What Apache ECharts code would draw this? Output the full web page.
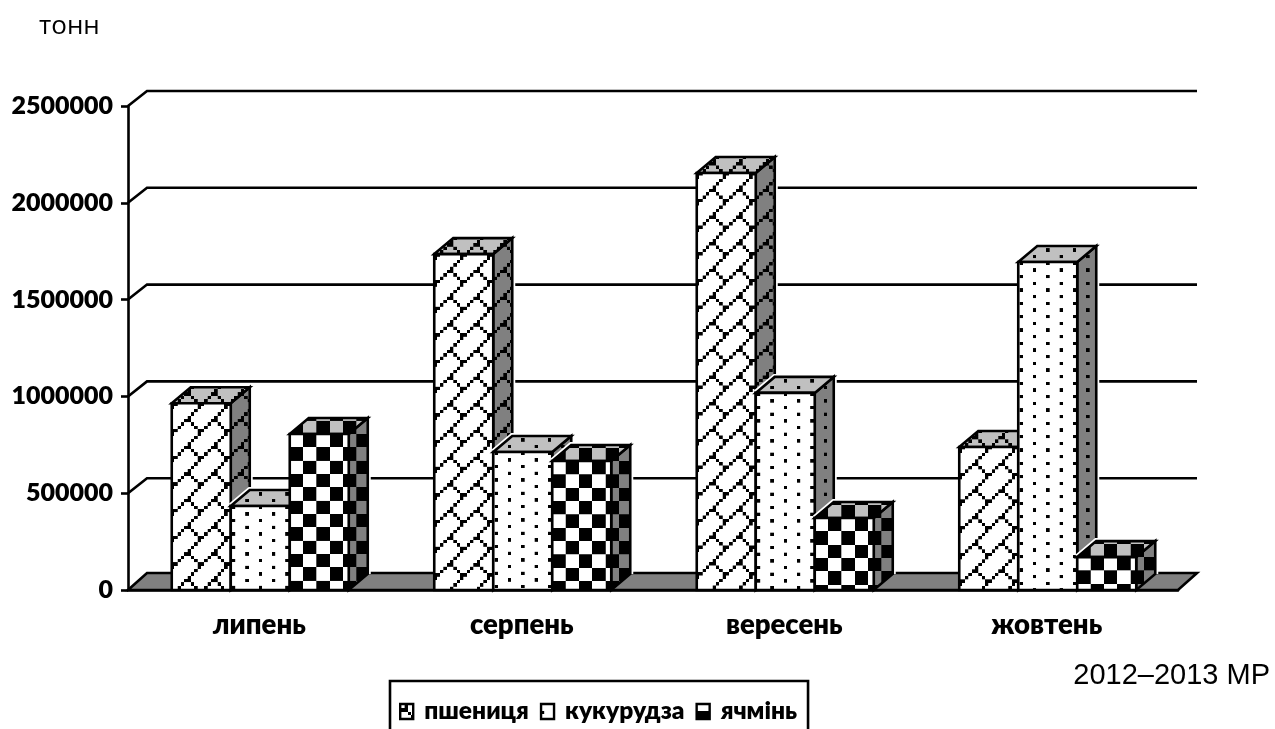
<!DOCTYPE html>
<html><head><meta charset="utf-8">
<style>html,body{margin:0;padding:0;background:#fff}#c{width:1275px;height:729px}</style>
<script src="https://cdn.jsdelivr.net/npm/echarts@6/dist/echarts.min.js"></script>
</head><body><div id="c"></div>
<script>
const months = ['липень', 'серпень', 'вересень', 'жовтень'];
const wheat = [965000, 1735000, 2154000, 739000];
const corn = [434000, 713000, 1018000, 1694000];
const barley = [806000, 666000, 372000, 170000];
const seriesNames = ['пшениця', 'кукурудза', 'ячмінь'];
const yTicks = [0, 500000, 1000000, 1500000, 2000000, 2500000];

const BOLD = 'Lato, "Noto Sans", sans-serif';
const DX = 19, DY = 16, BAR = 59, GRID_DY = 15, FLOOR_DY = 17, LINE = 2.6;

const BITMAPS = {
  brick: ['00000001','00000010','00000100','00001000','00011000','00100100','01000010','10000001'],
  dots:  ['00001000','00000000','10000000','00000000','00001000','00000000','10000000','00000000'],
  check: ['11110000','11110000','11110000','11110000','00001111','00001111','00001111','00001111']
};
function tile(bits, bg) {
  const k = 10, c = document.createElement('canvas');
  c.width = c.height = 8 * k;
  const g = c.getContext('2d');
  g.fillStyle = bg; g.fillRect(0, 0, 80, 80);
  g.fillStyle = '#000';
  bits.forEach((row, y) => row.split('').forEach((b, x) => { if (b === '1') g.fillRect(x * k, y * k, k, k); }));
  return c;
}
const kinds = ['brick', 'dots', 'check'];
const tiles = kinds.map(n => ({ white: tile(BITMAPS[n], '#fff'), side: tile(BITMAPS[n], '#808080'), top: tile(BITMAPS[n], '#c0c0c0') }));
// pattern origin relative to each bar's top-left front corner
const barPhase = [[2.5, 2.5], [1.3, 6.3], [0, -13.33]];
const legendPhase = [[-9, -9], [0, 0], [0, 7]];
function pat(img, x, y) { return { image: img, repeat: 'repeat', x: x, y: y, scaleX: 1 / 3, scaleY: 1 / 3 }; }

function barItem(k) {
  return function (params, api) {
    const i = api.value(0), v = api.value(1);
    const c = api.coord([i, 0]), t = api.coord([i, v]);
    const xl = c[0] + 1 + (k - 1.5) * BAR, xr = xl + BAR, y0 = c[1], y1 = t[1];
    const front = [[xl, y1], [xr, y1], [xr, y0], [xl, y0]];
    const side = [[xr, y1], [xr + DX, y1 - DY], [xr + DX, y0 - DY], [xr, y0]];
    const top = [[xl, y1], [xl + DX, y1 - DY], [xr + DX, y1 - DY], [xr, y1]];
    const halo = [[xl, y1], [xl + DX, y1 - DY], [xr + DX, y1 - DY], [xr + DX, y0 - DY]];
    const px = xl + barPhase[k][0], py = y1 + barPhase[k][1];
    const poly = (pts, fill, stroke, w) => ({ type: 'polygon', shape: { points: pts }, style: { fill: fill, stroke: stroke, lineWidth: w } });
    return {
      type: 'group',
      children: [
        { type: 'polyline', shape: { points: halo }, style: { fill: null, stroke: '#fff', lineWidth: 6 } },
        poly(side, pat(tiles[k].side, px, py), '#000', LINE),
        poly(top, pat(tiles[k].top, px, py), '#000', LINE),
        poly(front, pat(tiles[k].white, px, py), '#000', LINE)
      ]
    };
  };
}
function wallItem(params, api) {
  const v = api.value(1);
  const band = api.size([1, 0])[0];
  const a = api.coord([0, v]), b = api.coord([months.length - 1, v]);
  const xl = a[0] - band / 2, xr = b[0] + band / 2, y = a[1];
  if (v === 0) {
    return { type: 'polygon', shape: { points: [[xl, y], [xl + DX, y - FLOOR_DY], [xr + DX, y - FLOOR_DY], [xr, y]] },
      style: { fill: '#808080', stroke: '#000', lineWidth: LINE } };
  }
  return { type: 'polyline', shape: { points: [[xl, y], [xl + DX, y - GRID_DY], [xr + DX, y - GRID_DY]] },
    style: { fill: null, stroke: '#000', lineWidth: LINE } };
}
const values = [wheat, corn, barley];
const option = {
  animation: false,
  backgroundColor: '#fff',
  grid: { left: 128, right: 97, top: 106, bottom: 139, outerBoundsMode: 'none' },
  xAxis: { type: 'category', data: months, boundaryGap: true,
    axisLine: { lineStyle: { color: '#000', width: LINE } },
    axisTick: { length: 7, lineStyle: { color: '#000', width: LINE } },
    axisLabel: { color: '#000', fontFamily: BOLD, fontWeight: 800, fontSize: 27.5, margin: 21 } },
  yAxis: { type: 'value', min: 0, max: 2500000, interval: 500000,
    splitLine: { show: false },
    axisLine: { show: true, lineStyle: { color: '#000', width: LINE } },
    axisTick: { show: true, length: 7, lineStyle: { color: '#000', width: LINE } },
    axisLabel: { color: '#000', fontFamily: BOLD, fontWeight: 800, fontSize: 25, margin: 15, formatter: v => String(v) } },
  legend: {
    left: 390, top: 681, selectedMode: false, orient: 'horizontal',
    padding: [18, 11, 40, 9], itemGap: 11, itemWidth: 13, itemHeight: 15,
    borderColor: '#000', borderWidth: 2.6, borderRadius: 0,
    textStyle: { color: '#000', fontFamily: BOLD, fontWeight: 800, fontSize: 24.5, padding: [0, 0, 0, 6] },
    data: seriesNames.map((n, k) => ({ name: n, icon: 'rect',
      itemStyle: { color: pat(tiles[k].white, legendPhase[k][0], legendPhase[k][1]), borderColor: '#000', borderWidth: 2.4 } }))
  },
  graphic: [
    { type: 'text', left: 39, top: 14, style: { text: 'тонн', fontFamily: '"Open Sans"', fontSize: 26, fill: '#000' } },
    { type: 'text', right: 5, top: 661, style: { text: '2012–2013 МР', fontFamily: '"Liberation Sans"', fontSize: 29, fill: '#000' } }
  ],
  series: [
    { type: 'custom', name: 'wall', clip: false, silent: true, renderItem: wallItem, encode: { x: 0, y: 1 },
      data: yTicks.map(v => [0, v]) }
  ].concat(seriesNames.map((n, k) => ({
    type: 'custom', name: n, clip: false, silent: true, renderItem: barItem(k), encode: { x: 0, y: 1 },
    data: values[k].map((v, i) => [i, v])
  })))
};
const chart = echarts.init(document.getElementById('c'), null, { renderer: 'canvas' });
chart.setOption(option);
</script></body></html>
